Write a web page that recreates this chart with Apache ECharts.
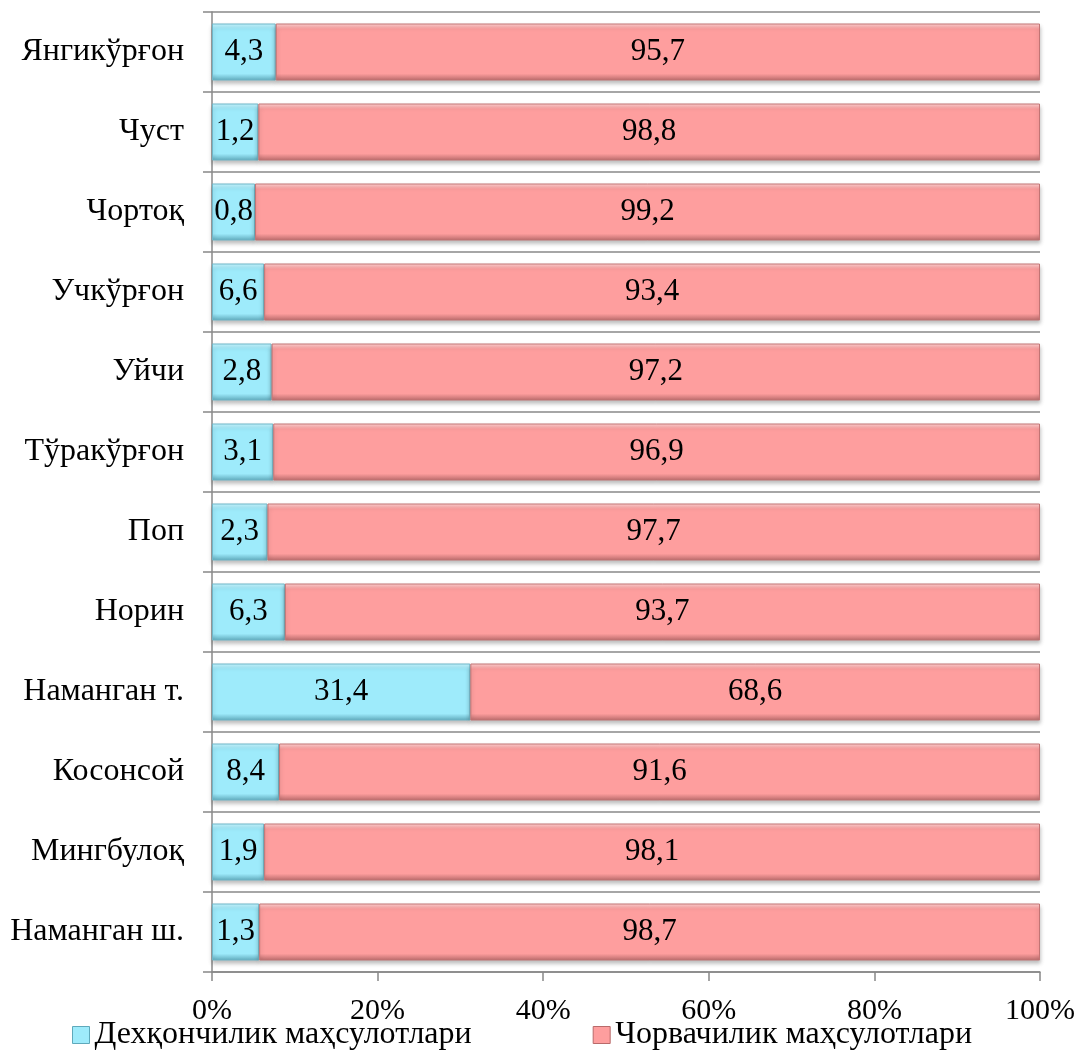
<!DOCTYPE html>
<html>
<head>
<meta charset="utf-8">
<script src="https://cdn.jsdelivr.net/npm/echarts@6/dist/echarts.min.js"></script>
<style>
html,body{margin:0;padding:0;background:#fff;}
#chart{width:1078px;height:1057px;}
</style>
</head>
<body>
<div id="chart"></div>
<script>
// Categories, bottom to top (ECharts draws the first category at the bottom)
const categories = ['Наманган ш.', 'Мингбулоқ', 'Косонсой', 'Наманган т.', 'Норин', 'Поп',
  'Тўракўрғон', 'Уйчи', 'Учкўрғон', 'Чортоқ', 'Чуст', 'Янгикўрғон'];
const seriesNames = ['Дехқончилик маҳсулотлари', 'Чорвачилик маҳсулотлари'];
// Segment widths as drawn in the picture (% of bar)
const cropShare = [5.7, 6.3, 8.1, 31.2, 8.8, 6.7, 7.4, 7.2, 6.3, 5.2, 5.6, 7.7];
const livestockShare = [94.3, 93.7, 91.9, 68.8, 91.2, 93.3, 92.6, 92.8, 93.7, 94.8, 94.4, 92.3];
// Printed value labels
const cropLabels = ['1,3', '1,9', '8,4', '31,4', '6,3', '2,3', '3,1', '2,8', '6,6', '0,8', '1,2', '4,3'];
const livestockLabels = ['98,7', '98,1', '91,6', '68,6', '93,7', '97,7', '96,9', '97,2', '93,4', '99,2', '98,8', '95,7'];
const xTicks = [0, 20, 40, 60, 80, 100];

const FONT = 'Liberation Serif';
const chart = echarts.init(document.getElementById('chart'), null, {renderer: 'canvas'});

function grad(light, main, dark) {
  return new echarts.graphic.LinearGradient(0, 0, 0, 1, [
    {offset: 0, color: light},
    {offset: 0.1, color: main},
    {offset: 0.88, color: main},
    {offset: 1, color: dark}
  ]);
}

function mkSeries(name, vals, labels, style) {
  return {
    name: name,
    type: 'bar',
    stack: 'total',
    barWidth: 57,
    data: vals.map((v, i) => ({value: v, labelText: labels[i]})),
    itemStyle: style,
    label: {
      show: true,
      position: 'inside',
      formatter: p => p.data.labelText,
      fontFamily: FONT,
      fontSize: 31,
      color: '#000'
    }
  };
}

const cropStyle = {
  color: grad('#c8f6ff', '#9eebfb', '#5fa9bb'),
  borderColor: '#6fb6c8',
  borderWidth: 1,
  shadowColor: 'rgba(0,0,0,0.25)',
  shadowBlur: 4,
  shadowOffsetY: 3
};
const livestockStyle = {
  color: grad('#ffd2d2', '#fe9e9e', '#b86a6a'),
  borderColor: '#c27474',
  borderWidth: 1,
  shadowColor: 'rgba(0,0,0,0.25)',
  shadowBlur: 4,
  shadowOffsetY: 3
};

chart.setOption({
  animation: false,
  backgroundColor: '#fff',
  grid: {left: 212, right: 37, top: 12, bottom: 85, containLabel: false},
  legend: {
    top: 1014,
    left: 67,
    itemGap: 121,
    itemWidth: 17,
    itemHeight: 17,
    textStyle: {fontFamily: FONT, fontSize: 32, color: '#000'},
    data: [
      {name: seriesNames[0], icon: 'rect', itemStyle: {color: '#9eebfb', borderColor: '#5fa9bb', borderWidth: 1}},
      {name: seriesNames[1], icon: 'rect', itemStyle: {color: '#fe9e9e', borderColor: '#b86a6a', borderWidth: 1}}
    ]
  },
  xAxis: {
    type: 'value',
    min: xTicks[0],
    max: xTicks[xTicks.length - 1],
    interval: 20,
    axisLine: {show: true, lineStyle: {color: '#888', width: 1.5}},
    axisTick: {show: true, length: 9, lineStyle: {color: '#888', width: 1.5}},
    splitLine: {show: false},
    axisLabel: {formatter: '{value}%', fontFamily: FONT, fontSize: 30, color: '#000', margin: 24}
  },
  yAxis: {
    type: 'category',
    data: categories,
    axisLine: {show: true, lineStyle: {color: '#888', width: 1.5}},
    axisTick: {show: true, length: 9, lineStyle: {color: '#888', width: 1.5}},
    splitLine: {show: true, lineStyle: {color: '#888', width: 1.5}},
    axisLabel: {fontFamily: FONT, fontSize: 32, color: '#000', margin: 28}
  },
  series: [
    mkSeries(seriesNames[0], cropShare, cropLabels, cropStyle),
    mkSeries(seriesNames[1], livestockShare, livestockLabels, livestockStyle)
  ]
});
</script>
</body>
</html>
